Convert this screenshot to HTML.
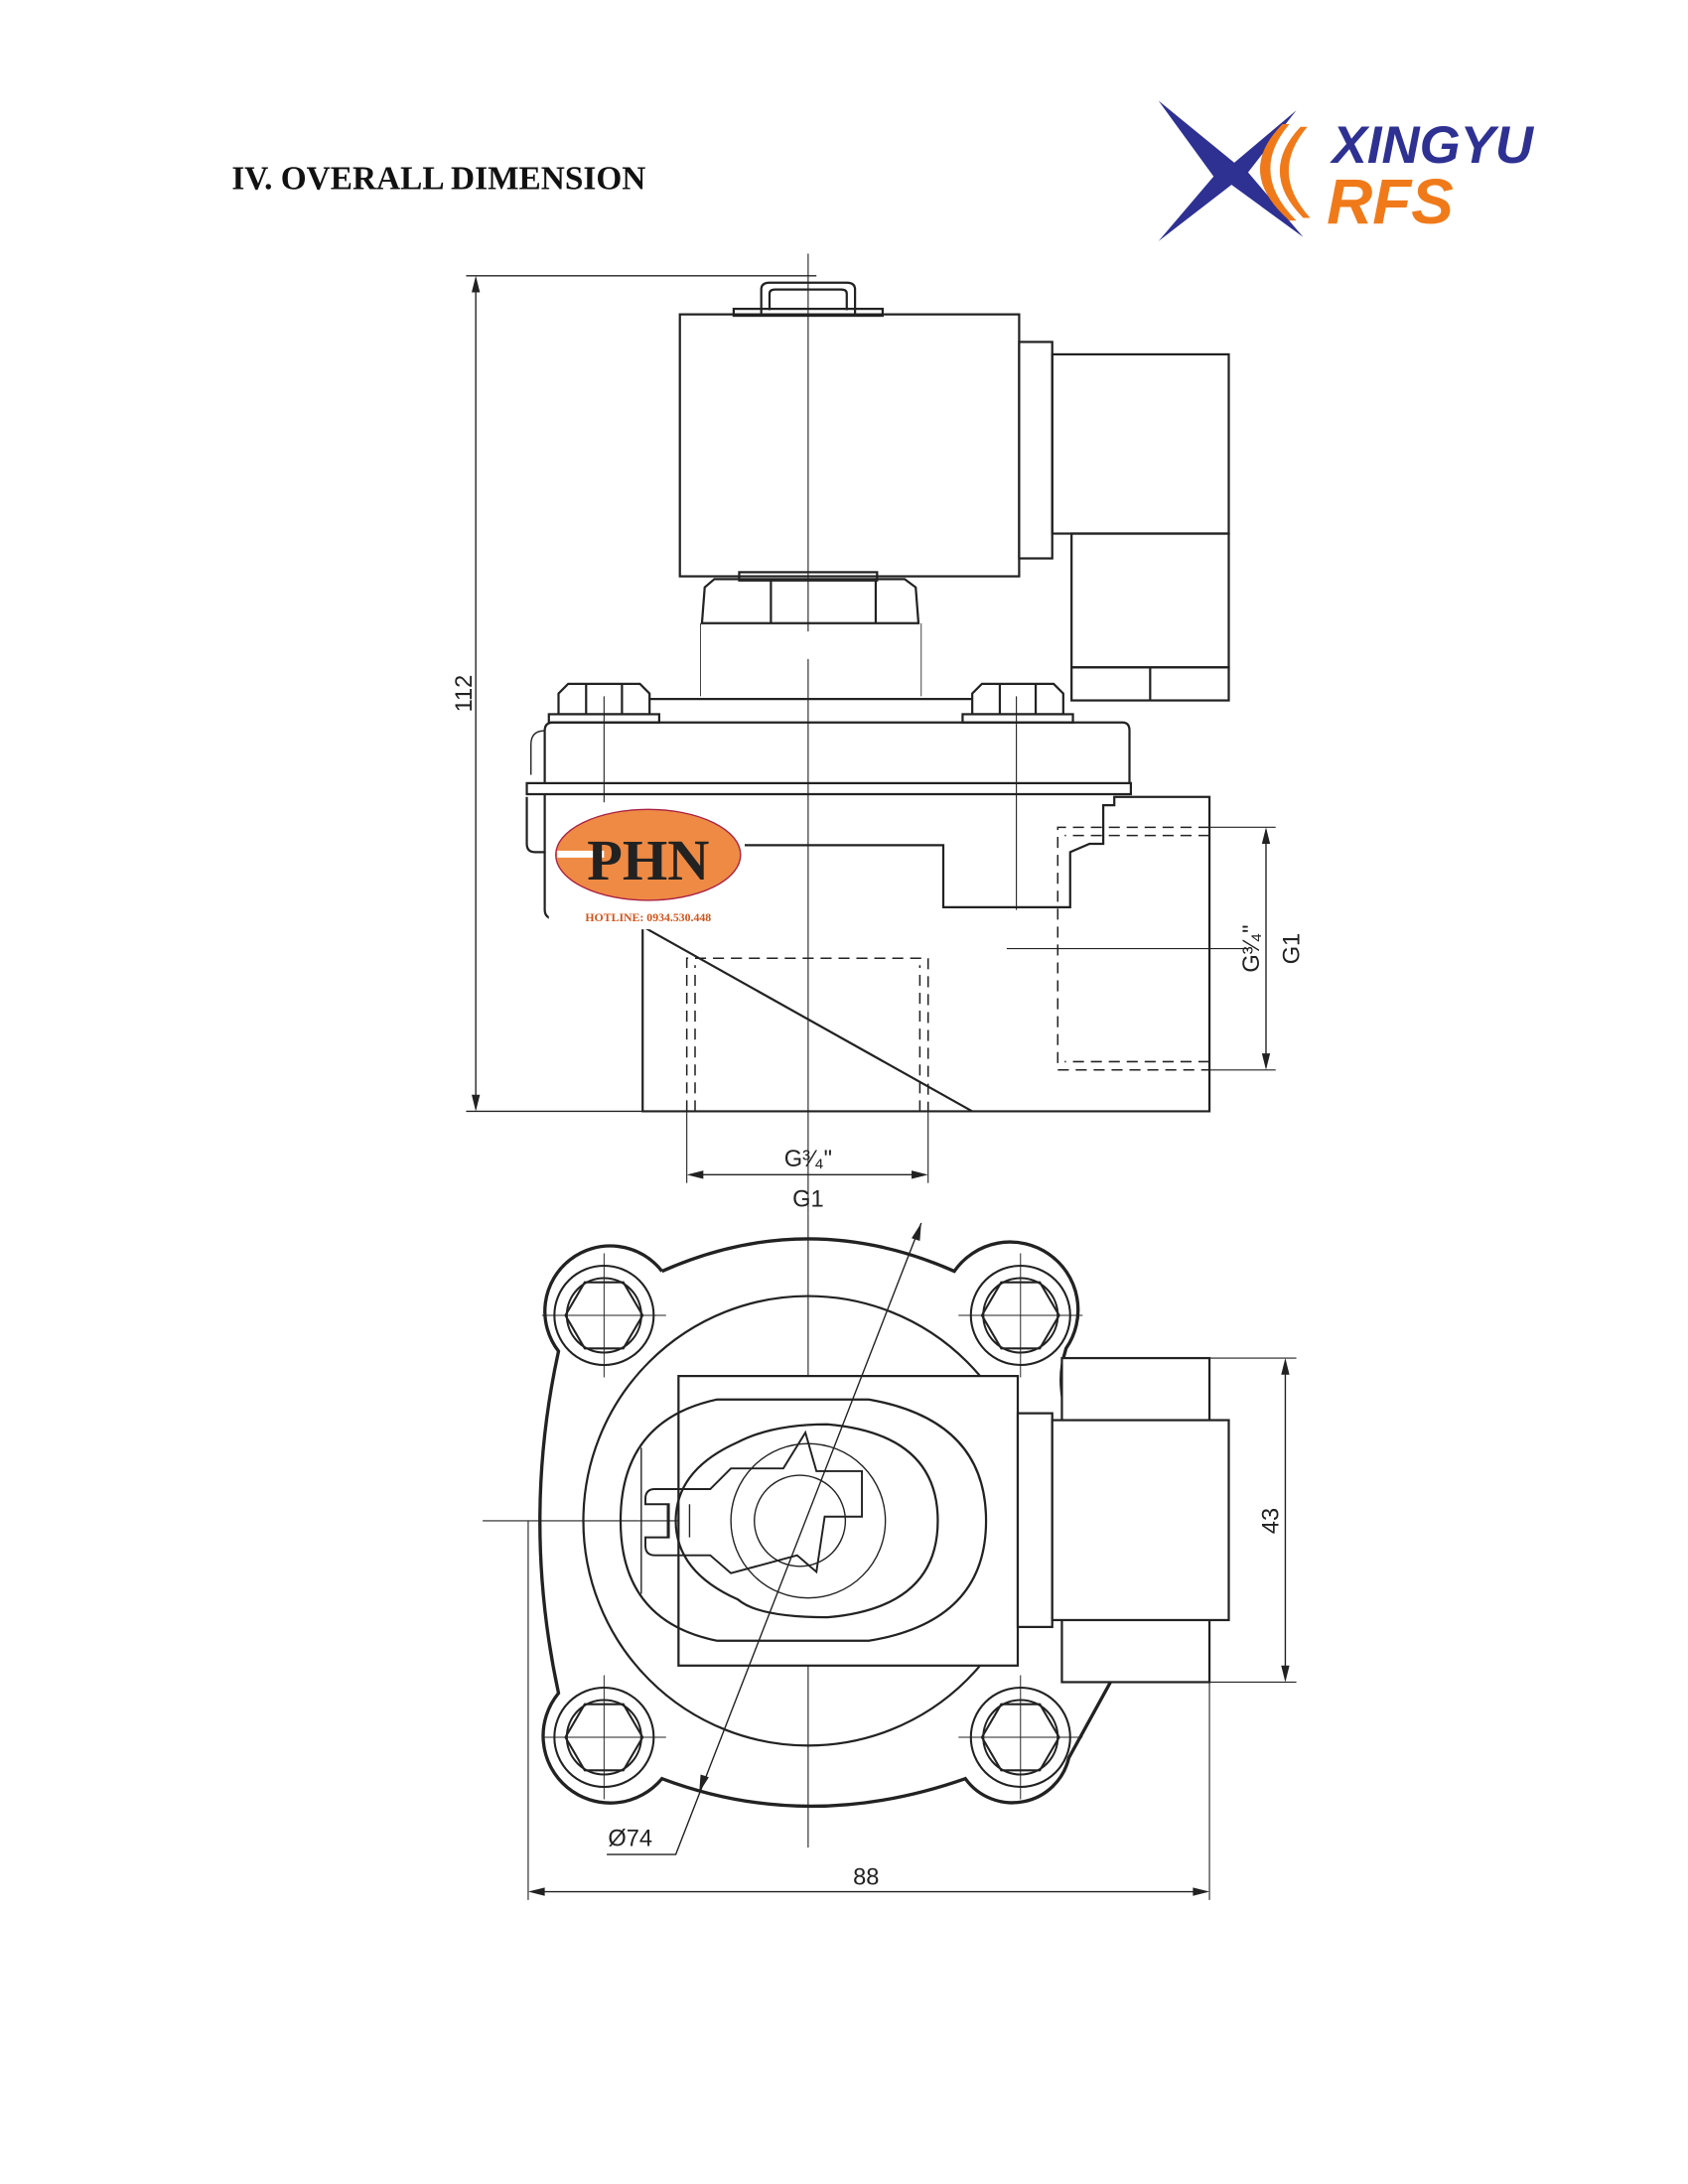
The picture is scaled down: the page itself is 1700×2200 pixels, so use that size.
<!DOCTYPE html>
<html><head><meta charset="utf-8">
<style>html,body{margin:0;padding:0;background:#fff}svg{display:block}</style></head>
<body>
<svg width="1700" height="2200" viewBox="0 0 1224 1584" xmlns="http://www.w3.org/2000/svg">
<rect width="1224" height="1584" fill="#fff"/>
<text x="168" y="137" font-family="Liberation Serif, serif" font-weight="bold" font-size="24" fill="#111">IV. OVERALL DIMENSION</text>
<!-- logo -->
<path d="M840 73 L895 118 L940 80 L905 125 L945 172 L893 134 L840 175 L880 128 Z" fill="#2e3192"/>
<path d="M935 90 Q905 125 940 160 L935 160 Q895 125 930 90 Z" fill="#f07a1a"/>
<path d="M948 92 Q920 125 950 158 L945 158 Q912 125 943 92 Z" fill="#f07a1a"/>
<text x="966" y="118" font-family="Liberation Sans, sans-serif" font-weight="bold" font-style="italic" font-size="38" fill="#2e3192">XINGYU</text>
<text x="962" y="162" font-family="Liberation Sans, sans-serif" font-weight="bold" font-style="italic" font-size="46" fill="#f07a1a">RFS</text>
<g fill="none" stroke="#222" stroke-width="1.6">
<!-- side view -->
<line x1="338" y1="200" x2="592" y2="200" stroke-width="1"/>
<line x1="338" y1="806" x2="470" y2="806" stroke-width="1"/>
<line x1="345" y1="202" x2="345" y2="804" stroke-width="1"/>
<line x1="586" y1="184" x2="586" y2="458" stroke-width="0.8"/>
<line x1="586" y1="478" x2="586" y2="880" stroke-width="0.8"/>
<path d="M552 228 V210 Q552 205 558 205 H614 Q620 205 620 210 V228 M558 225 V213 Q558 210 562 210 H610 Q614 210 614 213 V225"/>
<rect x="532" y="224" width="108" height="5"/>
<rect x="493" y="228" width="246" height="190"/>
<rect x="739" y="248" width="24" height="157"/>
<rect x="763" y="257" width="128" height="130"/>
<rect x="777" y="387" width="114" height="97"/>
<rect x="777" y="484" width="114" height="24"/>
<line x1="834" y1="484" x2="834" y2="508"/>
<rect x="536" y="415" width="100" height="6"/>
<path d="M509 452 L511 426 L518 420 H656 L664 426 L666 452 Z"/>
<line x1="559" y1="420" x2="559" y2="452"/><line x1="635" y1="420" x2="635" y2="452"/>
<line x1="508" y1="452" x2="508" y2="505" stroke-width="0.6"/><line x1="668" y1="452" x2="668" y2="505" stroke-width="0.6"/>
<path d="M405 518 V503 L412 496 H464 L471 503 V518 Z"/><line x1="425" y1="496" x2="425" y2="518"/><line x1="451" y1="496" x2="451" y2="518"/>
<rect x="398" y="518" width="80" height="6"/>
<path d="M705 518 V503 L712 496 H764 L771 503 V518 Z"/><line x1="725" y1="496" x2="725" y2="518"/><line x1="751" y1="496" x2="751" y2="518"/>
<rect x="698" y="518" width="80" height="6"/>
<line x1="471" y1="507" x2="705" y2="507"/>
<line x1="438" y1="505" x2="438" y2="582" stroke-width="0.8"/><line x1="737" y1="505" x2="737" y2="660" stroke-width="0.8"/>
<path d="M395 568 V530 Q395 524 401 524 H814 Q819 524 819 530 V568"/>
<path d="M395 530 Q385 530 385 540 V562" stroke-width="1"/>
<rect x="382" y="568" width="438" height="8"/>
<path d="M382 578 V612 Q382 618 388 618 H395 V576"/>
<path d="M395 618 V660 Q395 667 405 667"/>
<path d="M540 613 H684 V658 H776 V618 L790 612 H800 V584 H808 V578 H877 V806 H466 V672"/>
<line x1="466" y1="672" x2="705" y2="806"/>
<g stroke-dasharray="8 5" stroke-width="1.1">
<path d="M498 806 V695 H673 V806"/><path d="M504 806 V700 M667 806 V700"/>
<path d="M877 600 H767 V776 H877"/><path d="M877 606 H772 M877 770 H772"/>
</g>
<line x1="877" y1="600" x2="925" y2="600" stroke-width="0.8"/><line x1="877" y1="776" x2="925" y2="776" stroke-width="0.8"/>
<line x1="918" y1="602" x2="918" y2="774" stroke-width="1"/>
<line x1="730" y1="688" x2="905" y2="688" stroke-width="0.8"/>
<line x1="498" y1="806" x2="498" y2="858" stroke-width="0.8"/><line x1="673" y1="806" x2="673" y2="858" stroke-width="0.8"/>
<line x1="500" y1="852" x2="671" y2="852" stroke-width="1"/>
<!-- bottom view -->
<line x1="586" y1="880" x2="586" y2="1340" stroke-width="0.8"/>
<line x1="350" y1="1103" x2="880" y2="1103" stroke-width="0.8"/>
<path d="M480 922 Q586 875 692 922 A42 42 0 0 1 773 978 Q766 1000 773 1025" stroke-width="2.4"/>
<path d="M818 1178 Q822 1200 808 1215 L775 1275 A42 42 0 0 1 700 1290 Q586 1330 480 1290 A42 42 0 0 1 405 1228 Q378 1103 405 980 A42 42 0 0 1 480 922" stroke-width="2.4"/>
<circle cx="586" cy="1103" r="163"/>
<rect x="492" y="998" width="246" height="210" fill="#fff"/>
<path d="M520 1015 H630 Q715 1030 715 1103 Q715 1176 630 1190 H520 Q450 1176 450 1103 Q450 1030 520 1015 Z"/>
<path d="M465 1050 V1156" stroke-width="1"/>
<path d="M600 1033 Q680 1040 680 1103 Q680 1166 600 1173 Q550 1173 535 1160 Q490 1140 490 1103 Q490 1066 535 1046 Q560 1033 600 1033 Z"/>
<circle cx="586" cy="1103" r="56" stroke-width="1"/>
<circle cx="580" cy="1103" r="33" stroke-width="1"/>
<path d="M475 1080 H515 L530 1065 H568 L584 1039 L592 1067 H625 V1100 H598 L592 1140 L578 1128 L530 1141 L515 1128 H475 Q468 1128 468 1121 V1115 H485 V1091 H468 V1087 Q468 1080 475 1080 Z" stroke-width="1.4"/>
<line x1="484" y1="1091" x2="484" y2="1115" stroke-width="1"/><line x1="492" y1="1091" x2="492" y2="1115" stroke-width="1"/><line x1="500" y1="1091" x2="500" y2="1115" stroke-width="1"/>
<rect x="770" y="985" width="107" height="235" fill="#fff"/>
<rect x="738" y="1025" width="25" height="155" fill="#fff"/>
<rect x="763" y="1030" width="128" height="145" fill="#fff"/>
<line x1="877" y1="985" x2="940" y2="985" stroke-width="0.8"/><line x1="877" y1="1220" x2="940" y2="1220" stroke-width="0.8"/>
<line x1="932" y1="987" x2="932" y2="1218" stroke-width="1"/>
<line x1="383" y1="1103" x2="383" y2="1378" stroke-width="0.8"/><line x1="877" y1="1220" x2="877" y2="1378" stroke-width="0.8"/>
<line x1="385" y1="1372" x2="875" y2="1372" stroke-width="1"/>
<path d="M668 887 L490 1345 H440" stroke-width="1"/>
</g>
<!-- bolts -->
<g fill="none" stroke="#222" stroke-width="1.5">
<g transform="translate(438,954)"><circle r="36"/><circle r="27"/><path d="M-28 0 L-14 -24 H14 L28 0 L14 24 H-14 Z"/><line x1="-45" y1="0" x2="45" y2="0" stroke-width="0.7"/><line x1="0" y1="-45" x2="0" y2="45" stroke-width="0.7"/></g>
<g transform="translate(740,954)"><circle r="36"/><circle r="27"/><path d="M-28 0 L-14 -24 H14 L28 0 L14 24 H-14 Z"/><line x1="-45" y1="0" x2="45" y2="0" stroke-width="0.7"/><line x1="0" y1="-45" x2="0" y2="45" stroke-width="0.7"/></g>
<g transform="translate(438,1260)"><circle r="36"/><circle r="27"/><path d="M-28 0 L-14 -24 H14 L28 0 L14 24 H-14 Z"/><line x1="-45" y1="0" x2="45" y2="0" stroke-width="0.7"/><line x1="0" y1="-45" x2="0" y2="45" stroke-width="0.7"/></g>
<g transform="translate(740,1260)"><circle r="36"/><circle r="27"/><path d="M-28 0 L-14 -24 H14 L28 0 L14 24 H-14 Z"/><line x1="-45" y1="0" x2="45" y2="0" stroke-width="0.7"/><line x1="0" y1="-45" x2="0" y2="45" stroke-width="0.7"/></g>
</g>
<!-- arrows -->
<g fill="#222">
<path d="M345 200 l-3 12 h6 Z"/><path d="M345 806 l-3 -12 h6 Z"/>
<path d="M918 600 l-3 12 h6 Z"/><path d="M918 776 l-3 -12 h6 Z"/>
<path d="M498 852 l12 -3 v6 Z"/><path d="M673 852 l-12 -3 v6 Z"/>
<path d="M932 985 l-3 12 h6 Z"/><path d="M932 1220 l-3 -12 h6 Z"/>
<path d="M383 1372 l12 -3 v6 Z"/><path d="M877 1372 l-12 -3 v6 Z"/>
<path d="M668 887 l-1 13 l-6 -2 Z"/><path d="M507 1300 l1 -13 l6 2 Z"/>
</g>
<g font-family="Liberation Sans, sans-serif" font-size="17" fill="#222">
<text transform="translate(342,503) rotate(-90)" text-anchor="middle">112</text>
<text x="586" y="846" text-anchor="middle">G³⁄₄"</text>
<text x="586" y="875" text-anchor="middle">G1</text>
<text transform="translate(913,688) rotate(-90)" text-anchor="middle">G³⁄₄"</text>
<text transform="translate(942,688) rotate(-90)" text-anchor="middle">G1</text>
<text transform="translate(927,1103) rotate(-90)" text-anchor="middle">43</text>
<text x="628" y="1367" text-anchor="middle">88</text>
<text x="457" y="1339" text-anchor="middle">Ø74</text>
</g>
<!-- watermark -->
<rect x="398" y="582" width="142" height="92" fill="#fff"/>
<ellipse cx="470" cy="620" rx="67" ry="33" fill="#ee8a44" stroke="#a24" stroke-width="1"/>
<rect x="404" y="617" width="34" height="5" fill="#fff"/>
<text x="470" y="638" text-anchor="middle" font-family="Liberation Serif, serif" font-weight="bold" font-size="42" fill="#222">PHN</text>
<text x="470" y="668" text-anchor="middle" font-family="Liberation Serif, serif" font-weight="bold" font-size="8.5" fill="#d2541a">HOTLINE: 0934.530.448</text>
</svg>
</body></html>
